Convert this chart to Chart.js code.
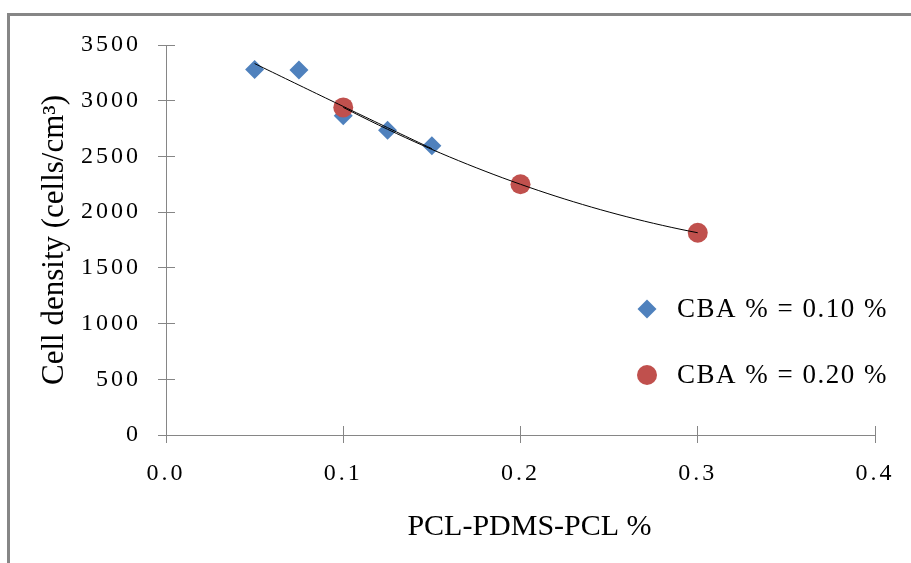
<!DOCTYPE html>
<html>
<head>
<meta charset="utf-8">
<script src="https://cdn.jsdelivr.net/npm/chart.js@4/dist/chart.umd.min.js"></script>
<style>
html,body{margin:0;padding:0;background:#fff;}
#wrap{width:911px;height:563px;position:relative;}
</style>
</head>
<body>
<div id="wrap"><canvas id="c"></canvas></div>
<script>
// ---- data ----
const blueX = [0.05, 0.075, 0.1, 0.125, 0.15];
const blueY = [3280, 3275, 2865, 2735, 2595];
const redX = [0.1, 0.2, 0.3];
const redY = [2940, 2250, 1815];
const seriesLabels = ['CBA % = 0.10 %', 'CBA % = 0.20 %'];
const xTitle = 'PCL-PDMS-PCL %';
const yTitle = 'Cell density (cells/cm³)';
const xRange = [0, 0.4, 0.1];
const yRange = [0, 3500, 500];

// quadratic least-squares trendline (as the spreadsheet's polynomial trendline)
function polyfit2(xs, ys) {
  const S = [0,0,0,0,0], T = [0,0,0];
  xs.forEach((x, i) => {
    for (let k = 0; k < 5; k++) S[k] += Math.pow(x, k);
    for (let k = 0; k < 3; k++) T[k] += ys[i] * Math.pow(x, k);
  });
  const M = [[S[0],S[1],S[2],T[0]],[S[1],S[2],S[3],T[1]],[S[2],S[3],S[4],T[2]]];
  for (let c = 0; c < 3; c++) {
    let p = c;
    for (let r = c + 1; r < 3; r++) if (Math.abs(M[r][c]) > Math.abs(M[p][c])) p = r;
    [M[c], M[p]] = [M[p], M[c]];
    for (let r = 0; r < 3; r++) {
      if (r === c) continue;
      const f = M[r][c] / M[c][c];
      for (let k = c; k < 4; k++) M[r][k] -= f * M[c][k];
    }
  }
  return [M[0][3] / M[0][0], M[1][3] / M[1][1], M[2][3] / M[2][2]];
}
function trend(xs, ys) {
  const a = polyfit2(xs, ys);
  const lo = Math.min(...xs), hi = Math.max(...xs), n = 40, out = [];
  for (let i = 0; i <= n; i++) {
    const x = lo + (hi - lo) * i / n;
    out.push({x: x, y: a[0] + a[1] * x + a[2] * x * x});
  }
  return out;
}
const toPts = (xs, ys) => xs.map((x, i) => ({x: x, y: ys[i]}));

const AXIS = '#868686';
const SERIF = "'Liberation Serif', 'Times New Roman', serif";

const framePlugin = {
  id: 'frame',
  beforeDraw(chart) {
    const ctx = chart.ctx;
    ctx.save();
    ctx.fillStyle = '#fff';
    ctx.fillRect(0, 0, chart.width, chart.height);
    ctx.strokeStyle = AXIS;
    ctx.lineWidth = 3;
    ctx.strokeRect(8.5, 14.5, chart.width + 20, chart.height + 20);
    ctx.restore();
    // letter-spaced tick labels
    Object.values(chart.scales).forEach(s => {
      if (s._lsPatched) return;
      const orig = s.drawLabels;
      s.drawLabels = function (a) {
        const c = this.ctx;
        c.save();
        c.letterSpacing = '3px';
        orig.call(this, a);
        c.restore();
      };
      s._lsPatched = true;
    });
  },
  beforeDatasetsDraw(chart) {
    // inner half of the crossing tick marks
    const ctx = chart.ctx, ca = chart.chartArea;
    const al = (p) => Math.round(p - 0.5) + 0.5;
    ctx.save();
    ctx.strokeStyle = AXIS;
    ctx.lineWidth = 1;
    ctx.beginPath();
    const ys = chart.scales.y;
    ys.ticks.forEach((t, i) => {
      const p = al(ys.getPixelForTick(i));
      ctx.moveTo(ca.left, p); ctx.lineTo(ca.left + 9, p);
    });
    const xs = chart.scales.x;
    xs.ticks.forEach((t, i) => {
      const p = al(xs.getPixelForTick(i));
      ctx.moveTo(p, ca.bottom); ctx.lineTo(p, ca.bottom - 9);
    });
    ctx.stroke();
    ctx.restore();
  },
  afterDraw(chart) {
    const ctx = chart.ctx, ca = chart.chartArea;
    ctx.save();
    // x axis title (slightly right of centre, as in the reference)
    ctx.fillStyle = '#000';
    ctx.font = '30px ' + SERIF;
    ctx.textAlign = 'center';
    ctx.textBaseline = 'middle';
    ctx.fillText(xTitle, (ca.left + ca.right) / 2 + 9, chart.height - 36);
    // legend drawn inside the plot area at the right
    const items = chart.data.datasets.filter(d => d.inLegend);
    const mx = ca.right - 228, tx = ca.right - 198;
    items.forEach((d, i) => {
      const y = ca.top + 264 + i * 66;
      ctx.fillStyle = d.backgroundColor;
      ctx.strokeStyle = d.backgroundColor;
      Chart.helpers.drawPoint(ctx, {pointStyle: d.pointStyle, radius: d.pointRadius, borderWidth: 0, rotation: 0}, mx, y);
      ctx.fillStyle = '#000';
      ctx.font = '27px ' + SERIF;
      ctx.letterSpacing = '1.5px';
      ctx.textAlign = 'left';
      ctx.textBaseline = 'middle';
      ctx.fillText(d.label, tx, y + 1);
      ctx.letterSpacing = '0px';
    });
    ctx.restore();
  }
};

new Chart(document.getElementById('c'), {
  type: 'scatter',
  data: {
    datasets: [
      {label: 'trend1', data: trend(blueX, blueY), showLine: true, borderColor: '#000', borderWidth: 1, pointRadius: 0, fill: false, order: 0},
      {label: 'trend2', data: trend(redX, redY), showLine: true, borderColor: '#000', borderWidth: 1, pointRadius: 0, fill: false, order: 0},
      {label: seriesLabels[0], inLegend: true, data: toPts(blueX, blueY), pointStyle: 'rectRot', pointRadius: 9.5, pointHoverRadius: 9.5, backgroundColor: '#4F81BD', borderColor: '#4F81BD', borderWidth: 0, order: 2},
      {label: seriesLabels[1], inLegend: true, data: toPts(redX, redY), pointStyle: 'circle', pointRadius: 10, pointHoverRadius: 10, backgroundColor: '#C0504D', borderColor: '#C0504D', borderWidth: 0, order: 1}
    ]
  },
  options: {
    responsive: true,
    maintainAspectRatio: false,
    animation: false,
    layout: {padding: {top: 45, right: 36, left: 0, bottom: 0}},
    plugins: {legend: {display: false}, tooltip: {enabled: false}},
    scales: {
      x: {
        type: 'linear', min: xRange[0], max: xRange[1],
        afterFit: (s) => { s.height = 128; },
        ticks: {stepSize: xRange[2], padding: 16, color: '#000', font: {family: SERIF, size: 24},
          callback: (v) => Number(v).toFixed(1)},
        grid: {display: true, drawOnChartArea: false, drawTicks: true, tickLength: 8, color: AXIS, lineWidth: 1},
        border: {display: true, color: AXIS, width: 1},
        title: {display: false}
      },
      y: {
        type: 'linear', min: yRange[0], max: yRange[1],
        afterFit: (s) => { s.width = 166; },
        ticks: {stepSize: yRange[2], padding: 17, color: '#000', font: {family: SERIF, size: 24},
          callback: (v) => String(v)},
        grid: {display: true, drawOnChartArea: false, drawTicks: true, tickLength: 8, color: AXIS, lineWidth: 1},
        border: {display: true, color: AXIS, width: 1},
        title: {display: true, text: yTitle, color: '#000', font: {family: SERIF, size: 31}, padding: {top: 36, bottom: 0}}
      }
    }
  },
  plugins: [framePlugin]
});
</script>
</body>
</html>
